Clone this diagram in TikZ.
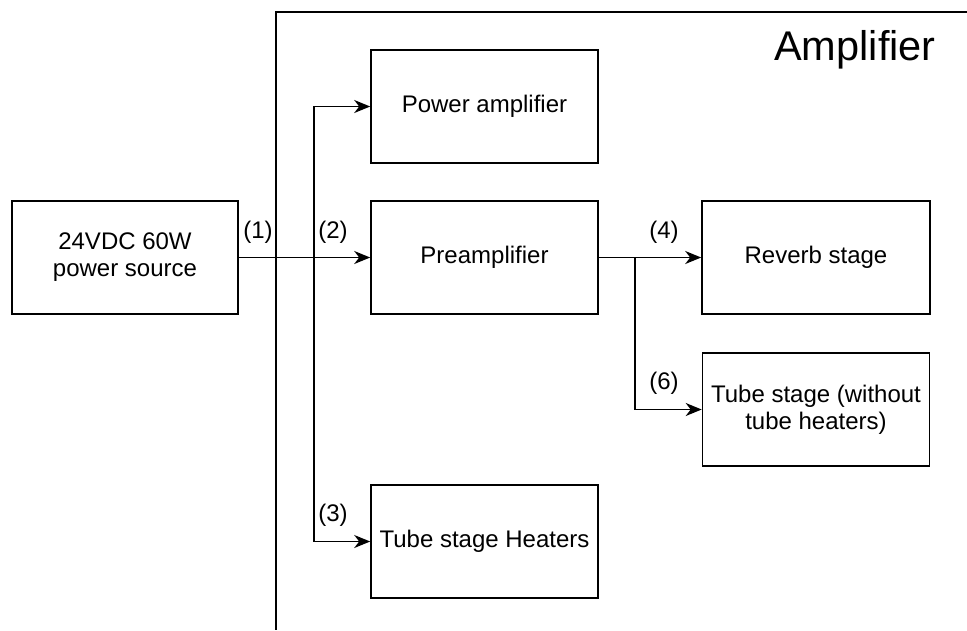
\documentclass[tikz,border=0pt]{standalone}
\usepackage{fontspec}
\setmainfont{Liberation Sans}
\usetikzlibrary{arrows.meta}
\begin{document}
\begin{tikzpicture}[x=1pt,y=-1pt,
  blk/.style={draw, line width=1.6pt, minimum width=227pt, minimum height=113pt, inner sep=0pt, align=center, font=\fontsize{24}{27}\selectfont},
  lbl/.style={font=\fontsize{24}{27}\selectfont, inner sep=0pt},
  conn/.style={line width=1.6pt, -{Stealth[length=16pt,width=13pt,inset=5pt]}},
  wire/.style={line width=1.6pt}]
\useasboundingbox (0,0) rectangle (967,630);
\coordinate (ftr) at (967,12);
\coordinate (ftl) at (276,12);
\coordinate (fbl) at (276,630);
\draw[wire] (ftr) -- (ftl) -- (fbl);
\node[font=\fontsize{41.5}{46}\selectfont, inner sep=0pt] (title) at (855,50) {Amplifier};
\node[blk, minimum width=226pt] (src) at (125,257.5) {24VDC 60W\\power source};
\node[blk] (pa) at (484.5,106.5) {Power amplifier};
\node[blk] (pre) at (484.5,257.5) {Preamplifier};
\node[blk, minimum width=228pt] (rev) at (816,257.5) {Reverb stage};
\node[blk] (tube) at (816,409.5) {Tube stage (without\\tube heaters)};
\node[blk] (heat) at (484.5,541.5) {Tube stage Heaters};
\coordinate (j1) at (314,257.5);
\coordinate (j2) at (635,257.5);
\draw[conn] (src.east) -- (pre.west);
\draw[conn] (j1) |- (pa.west);
\draw[conn] (j1) |- (heat.west);
\draw[conn] (pre.east) -- (rev.west);
\draw[conn] (j2) |- (tube.west);
\node[lbl] (l1) at (258,232) {(1)};
\node[lbl] (l2) at (333,232) {(2)};
\node[lbl] (l3) at (333,515) {(3)};
\node[lbl] (l4) at (664,232) {(4)};
\node[lbl] (l6) at (664,383) {(6)};
\end{tikzpicture}
\end{document}
